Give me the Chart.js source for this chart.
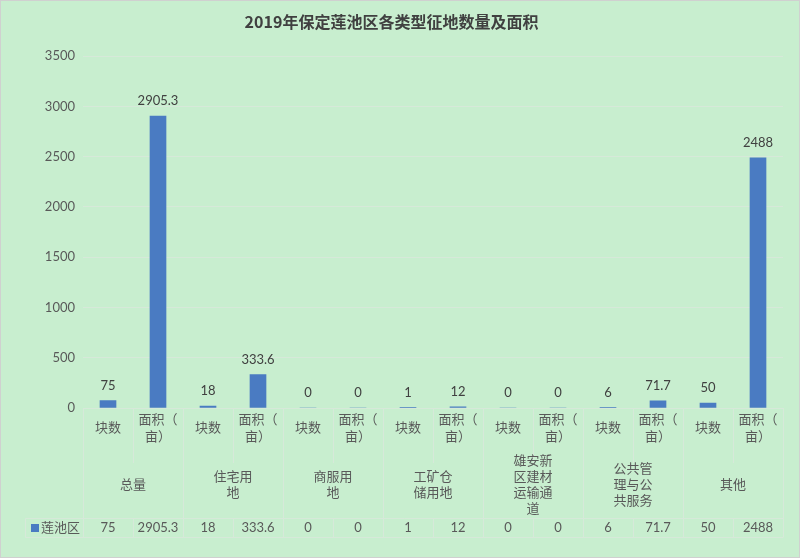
<!DOCTYPE html>
<html>
<head>
<meta charset="utf-8">
<script src="https://cdn.jsdelivr.net/npm/chart.js@4"></script>
<style>
html,body{margin:0;padding:0;background:#C8EECF;}
#wrap{width:800px;height:558px;position:relative;}
</style>
</head>
<body>
<div id="wrap"><canvas id="c" width="800" height="558"></canvas></div>
<script>
// ---- data ----
const chartTitle = '2019年保定莲池区各类型征地数量及面积';
const groupLabels = [['总量'], ['住宅用', '地'], ['商服用', '地'], ['工矿仓', '储用地'], ['雄安新', '区建材', '运输通', '道'], ['公共管', '理与公', '共服务'], ['其他']];
const subLabels = [['块数'], ['面积（', '亩）']];
const seriesName = '莲池区';
const seriesValues = [75, 2905.3, 18, 333.6, 0, 0, 1, 12, 0, 0, 6, 71.7, 50, 2488];
const yMin = 0, yMax = 3500, yStep = 500;

// ---- derived ----
const categories = [];
groupLabels.forEach((g, gi) => subLabels.forEach((s, si) => categories.push(g.join('') + '-' + s.join(''))));

const BG = '#C8EECF';
const LINE = '#D6E9D9';
const TXT = '#595959';
const VAL = '#404040';
const FONT = "Lato, 'Noto Sans CJK SC', sans-serif";

const bgPlugin = {
  id: 'bg',
  beforeDraw(chart) {
    const ctx = chart.ctx;
    ctx.save();
    ctx.fillStyle = BG;
    ctx.fillRect(0, 0, chart.width, chart.height);
    ctx.strokeStyle = '#D0D0D0';
    ctx.lineWidth = 1;
    ctx.strokeRect(0.5, 0.5, chart.width - 1, chart.height - 1);
    ctx.restore();
  }
};

const tablePlugin = {
  id: 'table',
  afterDatasetsDraw(chart) {
    const ctx = chart.ctx;
    const x = chart.scales.x;
    const area = chart.chartArea;
    const n = categories.length;
    const cw = (area.right - area.left) / n;
    const b = Math.round(area.bottom);
    ctx.save();
    // value labels above bars
    const meta = chart.getDatasetMeta(0);
    ctx.font = '13px ' + FONT;
    ctx.fillStyle = VAL;
    ctx.textAlign = 'center';
    ctx.textBaseline = 'middle';
    meta.data.forEach((bar, i) => {
      ctx.fillText(String(seriesValues[i]), bar.x, bar.y - 15);
    });
    // table lines
    ctx.strokeStyle = LINE;
    ctx.lineWidth = 1;
    const rowTop = b + 110, rowBot = b + 129;
    for (let i = 0; i <= n; i++) {
      const px = Math.round(x.getPixelForValue(i) - cw / 2) + 0.5;
      ctx.beginPath();
      if (i % 2 === 0) {
        ctx.moveTo(px, b);
        ctx.lineTo(px, rowBot);
      } else {
        ctx.moveTo(px, b);
        ctx.lineTo(px, b + 55);
        ctx.moveTo(px, rowTop);
        ctx.lineTo(px, rowBot);
      }
      ctx.stroke();
    }
    const tableLeft = 25.5;
    const tableRight = Math.round(area.right) + 0.5;
    ctx.beginPath();
    ctx.moveTo(tableLeft, rowTop + 0.5); ctx.lineTo(tableRight, rowTop + 0.5);
    ctx.moveTo(tableLeft, rowBot + 0.5); ctx.lineTo(tableRight, rowBot + 0.5);
    ctx.moveTo(tableLeft, rowTop + 0.5); ctx.lineTo(tableLeft, rowBot + 0.5);
    ctx.stroke();

    // sub labels
    ctx.font = '13px ' + FONT;
    ctx.fillStyle = TXT;
    for (let i = 0; i < n; i++) {
      const cx = x.getPixelForValue(i);
      const lines = subLabels[i % 2];
      if (lines.length === 1) {
        ctx.fillText(lines[0], cx, b + 20);
      } else {
        lines.forEach((t, k) => ctx.fillText(t, cx, b + 12 + k * 17));
      }
    }
    // group labels
    groupLabels.forEach((lines, gi) => {
      const cx = (x.getPixelForValue(gi * 2) + x.getPixelForValue(gi * 2 + 1)) / 2;
      const start = b + 77 - (lines.length - 1) * 16 / 2;
      lines.forEach((t, k) => ctx.fillText(t, cx, start + k * 16));
    });
    // data row
    const ry = b + 120;
    for (let i = 0; i < n; i++) {
      ctx.fillText(String(seriesValues[i]), x.getPixelForValue(i), ry);
    }
    // legend key
    ctx.fillStyle = chart.data.datasets[0].backgroundColor;
    ctx.fillRect(31, ry - 4, 8, 8);
    ctx.fillStyle = TXT;
    ctx.textAlign = 'left';
    ctx.fillText(seriesName, 41, ry);
    ctx.restore();
  }
};

new Chart(document.getElementById('c'), {
  type: 'bar',
  data: {
    labels: categories,
    datasets: [{
      label: seriesName,
      data: seriesValues,
      backgroundColor: '#4A7BC2',
      barThickness: 16
    }]
  },
  options: {
    responsive: false,
    animation: false,
    devicePixelRatio: 1,
    layout: { padding: { left: 0, right: 17, top: 0, bottom: 150 } },
    plugins: {
      legend: { display: false },
      tooltip: { enabled: false },
      title: {
        display: true,
        text: chartTitle,
        color: VAL,
        font: { family: "'Noto Sans CJK SC', sans-serif", size: 16, weight: 'bold' },
        padding: { top: 12, bottom: 25 }
      }
    },
    scales: {
      x: { display: false },
      y: {
        min: yMin, max: yMax,
        ticks: { stepSize: yStep, color: TXT, padding: 8, font: { family: FONT, size: 13 }, callback: (v) => String(v) },
        grid: { color: LINE, drawTicks: false },
        border: { display: false },
        afterFit(scale) { scale.width = 83; }
      }
    }
  },
  plugins: [bgPlugin, tablePlugin]
});
</script>
</body>
</html>
